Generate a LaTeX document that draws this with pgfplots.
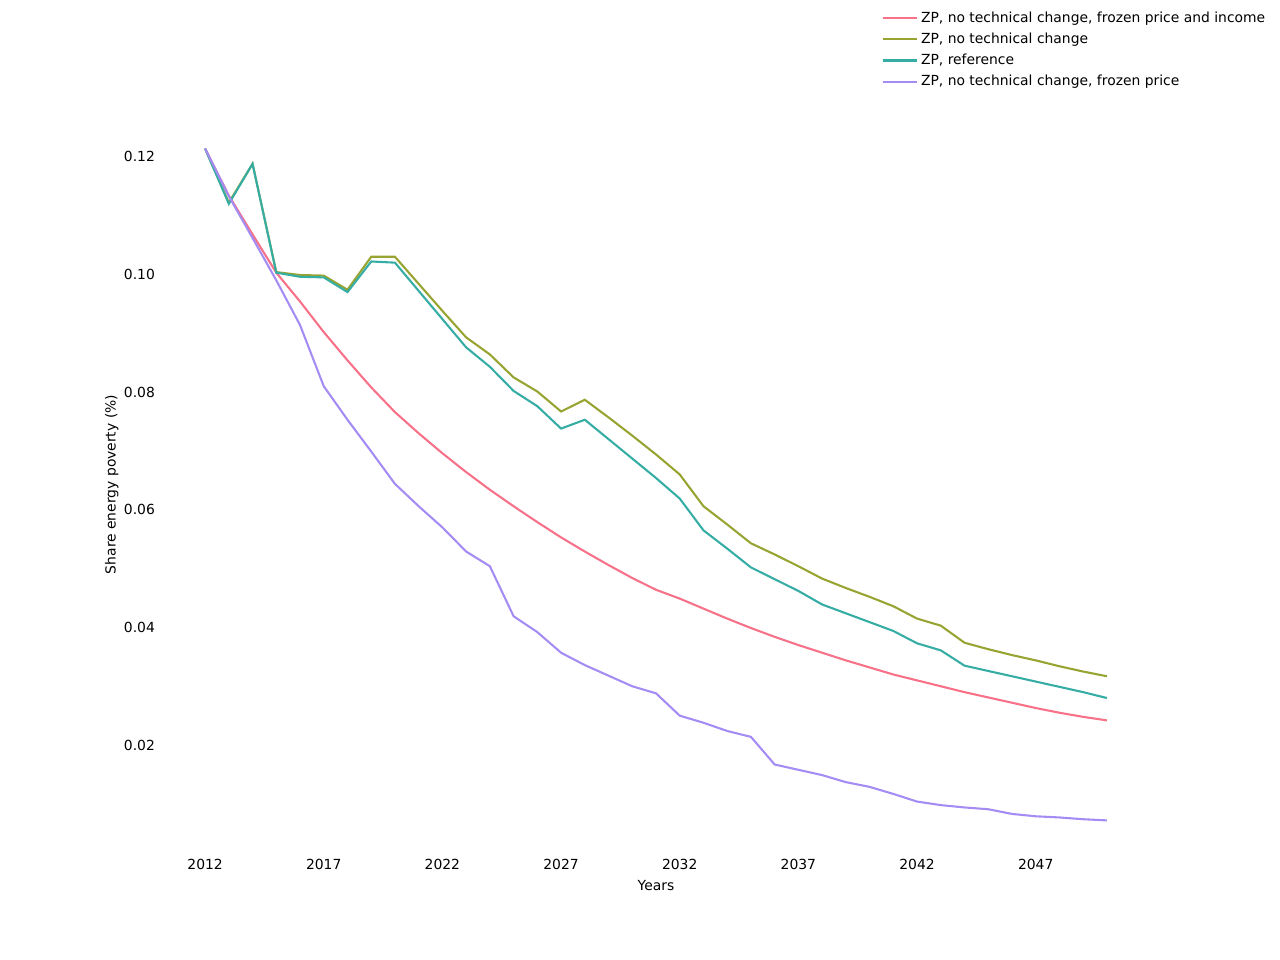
\documentclass[border=0pt]{standalone}
\usepackage{pgfplots}
\pgfplotsset{compat=1.18}
\usepackage{pgfplotstable}
\usepackage{fontspec}
\setmainfont{DejaVu Sans}
\definecolor{cred}{HTML}{F77189}
\definecolor{colive}{HTML}{97A431}
\definecolor{cteal}{HTML}{36ADA4}
\definecolor{cpurple}{HTML}{A48CF4}
\pgfplotstableread{
year red olive teal purple
2012 0.1214 0.1214 0.1214 0.1214
2013 0.1134 0.1122 0.1120 0.1133
2014 0.1068 0.1188 0.1188 0.1062
2015 0.1003 0.1004 0.1003 0.0990
2016 0.0954 0.0999 0.0996 0.0914
2017 0.0902 0.0998 0.0995 0.0810
2018 0.0854 0.0974 0.0970 0.0753
2019 0.0808 0.1030 0.1022 0.0699
2020 0.0766 0.1030 0.1020 0.0644
2021 0.0730 0.0984 0.0972 0.0606
2022 0.0696 0.0938 0.0924 0.0570
2023 0.0664 0.0893 0.0876 0.0529
2024 0.0634 0.0864 0.0843 0.0504
2025 0.0606 0.0825 0.0802 0.0419
2026 0.0579 0.0801 0.0776 0.0392
2027 0.0553 0.0767 0.0738 0.0357
2028 0.0529 0.0787 0.0753 0.0336
2029 0.0506 0.0757 0.0720 0.0318
2030 0.0484 0.0726 0.0687 0.0300
2031 0.0464 0.0694 0.0654 0.0288
2032 0.0449 0.0660 0.0619 0.0250
2033 0.0432 0.0606 0.0565 0.0238
2034 0.0415 0.0575 0.0534 0.0224
2035 0.0399 0.0543 0.0502 0.0214
2036 0.0384 0.0524 0.0482 0.0167
2037 0.0370 0.0504 0.0462 0.0158
2038 0.0357 0.0483 0.0439 0.0149
2039 0.0344 0.0467 0.0424 0.0137
2040 0.0332 0.0452 0.0409 0.0129
2041 0.0320 0.0436 0.0394 0.0117
2042 0.0310 0.0415 0.0373 0.0104
2043 0.0300 0.0403 0.0361 0.0098
2044 0.0290 0.0374 0.0335 0.0094
2045 0.0281 0.0363 0.0326 0.0091
2046 0.0272 0.0353 0.0317 0.0083
2047 0.0263 0.0344 0.0308 0.0079
2048 0.0255 0.0334 0.0299 0.0077
2049 0.0248 0.0325 0.0290 0.0074
2050 0.0242 0.0317 0.0280 0.0072
}\datatable
\begin{document}
\begin{tikzpicture}
\path[use as bounding box] (0,0) rectangle (921.6pt,691.2pt);
\begin{axis}[
  at={(115.2pt,76.32pt)}, anchor=south west,
  scale only axis, width=714.24pt, height=532.08pt,
  xmin=2010.1, xmax=2051.9, ymin=0.00149, ymax=0.1271,
  axis line style={draw=none},
  major tick length=0pt,
  xtick={2012,2017,2022,2027,2032,2037,2042,2047},
  ytick={0.02,0.04,0.06,0.08,0.10,0.12},
  /pgf/number format/assume math mode=true,
  xticklabel style={/pgf/number format/1000 sep=, inner sep=0pt, yshift=-3.5pt, anchor=north},
  yticklabel style={/pgf/number format/fixed, /pgf/number format/precision=2, /pgf/number format/fixed zerofill, inner sep=0pt, xshift=-3.5pt, anchor=east},
  scaled y ticks=false,
  tick label style={font=\fontsize{10}{12}\selectfont},
  label style={font=\fontsize{10}{12}\selectfont},
  xlabel={Years},
  ylabel={Share energy poverty (\%)},
  xlabel style={at={(axis description cs:0.5,0)}, anchor=north, yshift=-18.5pt, inner sep=0pt},
  ylabel style={at={(axis description cs:0,0.5)}, anchor=south, yshift=29.7pt, inner sep=0pt},
  legend style={at={(axis description cs:0.727,1.1435)}, anchor=north west, draw=none, fill=none,
    font=\fontsize{10}{12}\selectfont, row sep=2.1pt, inner sep=0pt},
  legend cell align=left,
  legend image code/.code={\draw[#1, line width=1.5pt] (0pt,0pt) -- (20pt,0pt); \path (0pt,0pt) -- (25pt,0pt);},
  every axis plot/.append style={line width=1.5pt},
]
\addplot[cred, no marks] table[x=year, y=red] {\datatable};
\addlegendentry{ZP, no technical change, frozen price and income}
\addplot[colive, no marks] table[x=year, y=olive] {\datatable};
\addlegendentry{ZP, no technical change}
\addplot[cteal, no marks] table[x=year, y=teal] {\datatable};
\addlegendentry{ZP, reference}
\addplot[cpurple, no marks] table[x=year, y=purple] {\datatable};
\addlegendentry{ZP, no technical change, frozen price}
\end{axis}
\end{tikzpicture}
\end{document}
